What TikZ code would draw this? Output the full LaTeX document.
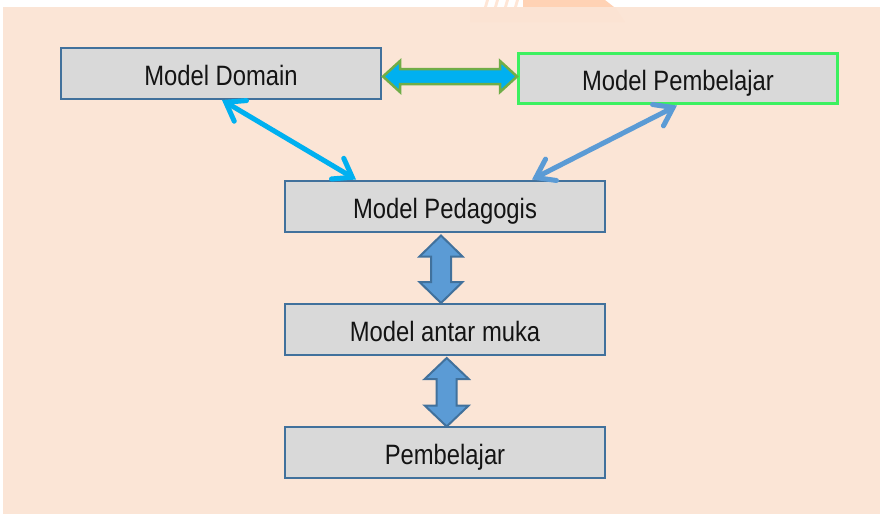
\documentclass[tikz,border=0pt]{standalone}
\usepackage{fontspec}
\setmainfont{Liberation Sans}[FakeStretch=0.85]
\usetikzlibrary{arrows.meta,calc}

\definecolor{peach}{HTML}{FBE5D6}
\definecolor{boxfill}{HTML}{D9D9D9}
\definecolor{boxline}{HTML}{41719C}
\definecolor{lime}{HTML}{3CF060}
\definecolor{cyanarrow}{HTML}{00B0F0}
\definecolor{steelarrow}{HTML}{5B9BD5}
\definecolor{leaf}{HTML}{70AD47}
\definecolor{wmark}{HTML}{FFD2B4}

% vertical double block arrow: style, top tip, bottom tip, half shaft, half head, head length
\newcommand\vblockarrow[6]{%
  \draw[#1] let \p1=(#2), \p2=(#3) in
    (\x1,\y1) -- (\x1+#5pt,\y1-#6pt) -- (\x1+#4pt,\y1-#6pt)
    -- (\x1+#4pt,\y2+#6pt) -- (\x1+#5pt,\y2+#6pt) -- (\x1,\y2)
    -- (\x1-#5pt,\y2+#6pt) -- (\x1-#4pt,\y2+#6pt)
    -- (\x1-#4pt,\y1-#6pt) -- (\x1-#5pt,\y1-#6pt) -- cycle;}
% horizontal double block arrow: style, left tip, right tip, half shaft, half head, head length
\newcommand\hblockarrow[6]{%
  \draw[#1] let \p1=(#2), \p2=(#3) in
    (\x1,\y1) -- (\x1+#6pt,\y1+#5pt) -- (\x1+#6pt,\y1+#4pt)
    -- (\x2-#6pt,\y1+#4pt) -- (\x2-#6pt,\y1+#5pt) -- (\x2,\y1)
    -- (\x2-#6pt,\y1-#5pt) -- (\x2-#6pt,\y1-#4pt)
    -- (\x1+#6pt,\y1-#4pt) -- (\x1+#6pt,\y1-#5pt) -- cycle;}

\begin{document}
\begin{tikzpicture}[x=1pt,y=-1pt,
  model/.style={draw=boxline, line width=2pt, fill=boxfill,
    minimum width=320pt, minimum height=51pt, inner sep=0pt,
    text height=24pt, text depth=0pt,
    font=\fontsize{28}{30}\selectfont, text=black!92},
  linkarrow/.style={line width=5pt, line cap=round, line join=round,
    {Straight Barb[length=17pt,width=24pt,line cap=round]}-{Straight Barb[length=17pt,width=24pt,line cap=round]}},
  blockv/.style={fill=steelarrow, draw=boxline, line width=2pt, line join=miter},
  blockh/.style={fill=cyanarrow, draw=leaf, line width=2.5pt, line join=miter}]
\useasboundingbox (0,0) rectangle (881,515);

% logo fragment peeking above the panel
\fill[wmark] (523,0) -- (605,0) -- (614,7) -- (523,7) -- cycle;
\foreach \s in {484,494,504,514}
  \fill[wmark!55] (\s+2,0) -- (\s+5,0) -- (\s+3,7) -- (\s,7) -- cycle;

% panel
\fill[peach] (3,7) rectangle (880,514);
\fill[wmark, opacity=0.08] (470,7) -- (615,7) -- (625,22) -- (470,22) -- cycle;

% boxes
\node[model] (dom) at (221,73) {Model Domain};
\node[model, draw=lime, line width=3pt, minimum width=319pt, minimum height=50pt] (lrn) at (678,78.5) {Model Pembelajar};
\node[model] (ped) at (445,206.5) {Model Pedagogis};
\node[model] (ui)  at (445,329.5) {Model antar muka};
\node[model] (usr) at (445,452) {Pembelajar};

% arrow end points
\coordinate (h1) at ($(dom.east)+(1,3.5)$);
\coordinate (h2) at ($(lrn.west)+(0,-2)$);
\coordinate (v1) at ($(ped.south)+(-4,2.5)$);
\coordinate (v2) at ($(ui.north)+(-4,0)$);
\coordinate (v3) at ($(ui.south)+(1.7,2)$);
\coordinate (v4) at ($(usr.north)+(1.7,1)$);

% block arrows
\hblockarrow{blockh}{h1}{h2}{7.5}{15.5}{17}
\vblockarrow{blockv}{v1}{v2}{10}{21.5}{21}
\vblockarrow{blockv}{v3}{v4}{10}{22}{21}

% line arrows
\draw[linkarrow, cyanarrow] ($(dom.south)+(1,0.5)$) -- ($(ped.north west)+(72,-0.5)$);
\draw[linkarrow, steelarrow] ($(lrn.south)+(-1,0.5)$) -- ($(ped.north east)+(-74,-0.5)$);
\end{tikzpicture}
\end{document}
